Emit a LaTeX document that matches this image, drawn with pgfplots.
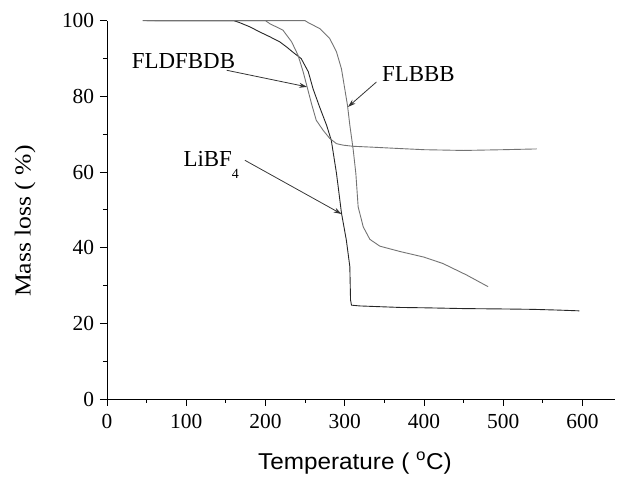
\documentclass[border=0pt]{standalone}
\usepackage{fontspec}
\setmainfont{Liberation Serif}
\newfontfamily\arial{Liberation Sans}
\usepackage{pgfplots}
\pgfplotsset{compat=1.18}
\usetikzlibrary{arrows.meta}

\begin{document}
\fontsize{23}{27}\selectfont
\begin{tikzpicture}
\begin{axis}[
  name=ax,
  at={(0,0)}, anchor=south west,
  scale only axis,
  width=508bp, height=378.3bp,
  xmin=0, xmax=641, ymin=0, ymax=100,
  axis x line*=bottom, axis y line*=left,
  axis line style={line width=0.9pt},
  xtick={0,100,...,600}, ytick={0,20,...,100},
  minor x tick num=1, minor y tick num=1,
  tick align=outside,
  major tick length=7bp, minor tick length=4bp,
  tick style={line width=0.8pt, black},
  /pgf/number format/assume math mode=true,
  ticklabel style={font=\fontsize{21.5}{25}\selectfont},
  xticklabel style={yshift=0bp},
  yticklabel style={xshift=2bp},
  clip=false,
]
% LiBF4
\addplot[black!85, line width=0.9pt] coordinates {
 (50,100)(160,100)(166,99.6)(180,98.4)(193,97)(205,95.8)(218,94.4)(227,93)
 (235,91.6)(245,90)(254,86.5)(260,82)(268.6,77)(277,72.4)(283,68.4)
 (289.6,59.6)(295.9,49.1)(302,42)(306.4,35)(307.3,26.2)(308.5,24.8)
 (319,24.6)(344,24.4)(370,24.2)(403,24.1)(450,23.9)(500,23.8)(537,23.7)
 (570,23.5)(596,23.3)
};
% FLDFBDB
\addplot[black!55, line width=0.9pt] coordinates {
 (60,100)(200,100)(205.5,99.2)(222,97.5)(233,94.4)(241,90.9)(247.5,86.5)
 (252.5,82.5)(258,78.1)(264,73.7)(272.8,71)(281,68.9)(289.5,67.5)(298,67.1)
 (310.6,66.8)(331.6,66.6)(370,66.2)(400,65.9)(450,65.7)(500,65.9)(542,66.1)
};
% FLBBB
\addplot[black!55, line width=0.9pt] coordinates {
 (45,100)(250,100)(253.8,99.5)(268.6,97.9)(281,95.3)(289.5,91.8)(295.8,87.3)
 (300,82)(303.4,77.7)(306.4,72.4)(310.6,66)(314,59.6)(316.9,50.8)(323.3,45.5)
 (331.7,42.2)(344.3,40.4)(369.5,39)(400,37.5)(424,35.8)(453.5,32.8)(480.8,29.7)
};
\node[anchor=base west, inner sep=0pt] at (axis cs:31.2,87.4) {FLDFBDB};
\node[anchor=base west, inner sep=0pt] at (axis cs:346.9,84.0) {FLBBB};
\node[anchor=base west, inner sep=0pt] at (axis cs:96.3,61.4)
  {LiBF\raisebox{-0.5em}{\fontsize{14}{14}\selectfont 4}};
\draw[-{Stealth[length=8bp,width=5bp]}, line width=0.8pt, black!80]
  (axis cs:151,86.9) -- (axis cs:252.5,82.5);
\draw[-{Stealth[length=8bp,width=5bp]}, line width=0.8pt, black!80]
  (axis cs:340,83.8) -- (axis cs:304,77.2);
\draw[-{Stealth[length=8bp,width=5bp]}, line width=0.8pt, black!80]
  (axis cs:174,63.1) -- (axis cs:296,48.9);
\end{axis}
\node[rotate=90] at ([shift={(-82bp,178bp)}]ax.south west)
  {\scalebox{1.12}[1]{Mass loss ( \%)}};
\node at ([shift={(248bp,-64bp)}]ax.south west)
  {\arial\scalebox{1.06}[1]{Temperature ( \textsuperscript{o}C)}};
\pgfresetboundingbox
\path ([shift={(-107bp,-78bp)}]ax.south west) rectangle ([shift={(511bp,399bp)}]ax.south west);
\end{tikzpicture}
\end{document}
